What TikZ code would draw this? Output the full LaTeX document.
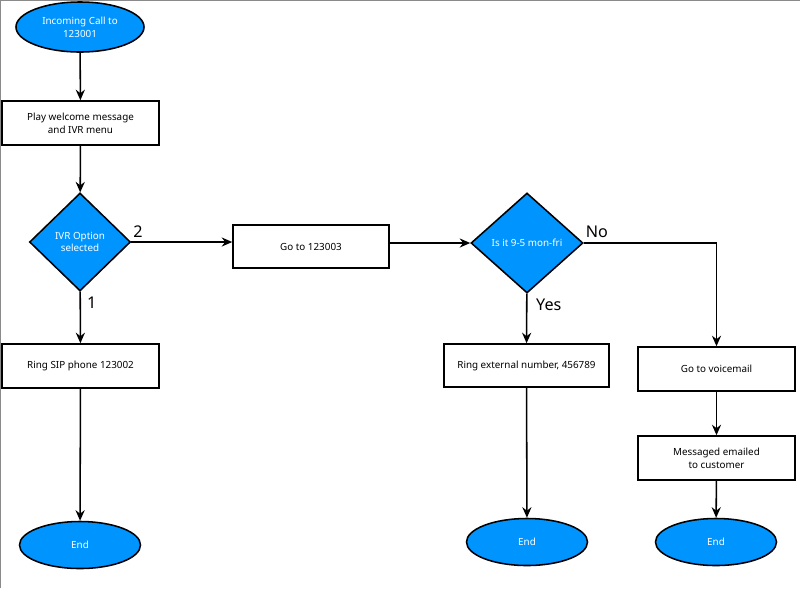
\documentclass[tikz,border=0pt]{standalone}
\usepackage{fontspec}
\setmainfont{Noto Sans}
\usepackage{tikz}
\usetikzlibrary{shapes.geometric, arrows.meta, positioning, calc}
\definecolor{callblue}{HTML}{0094FF}
\definecolor{framegray}{HTML}{8A8A8A}

\begin{document}
\begin{tikzpicture}[
    x=0.025cm, y=-0.025cm,
    every node/.style={font=\fontsize{7}{9}\selectfont},
    terminal/.style={ellipse, draw, line width=1.1pt, fill=callblue, text=white, minimum width=3.025cm, minimum height=1.175cm, inner sep=0pt},
    process/.style={rectangle, draw, line width=1.1pt, fill=white, align=center, minimum width=3.925cm, minimum height=1.1cm, inner sep=1pt},
    decision/.style={diamond, draw, line width=1.1pt, fill=callblue, text=white, align=center, inner sep=0pt},
    flow/.style={-{Stealth[length=7.5pt, width=6.5pt, inset=2.5pt]}, line width=1.1pt},
    branch/.style={font=\fontsize{11.5}{13}\selectfont},
]

% Canvas and frame
\useasboundingbox (0,0) rectangle (800,588);
\draw[framegray, line width=1.2pt] (0.5,588) -- (0.5,0.5) -- (800,0.5);

% Left column
\node[terminal, align=center, minimum width=3.2cm, minimum height=1.25cm] (start) at (80,27) {Incoming Call to\\123001};
\node[process] (welcome) at (80.5,123) {Play welcome message\\and IVR menu};
\node[decision, minimum width=2.525cm, minimum height=2.45cm] (ivr) at (80,242) {IVR Option\\selected};
\node[process] (sip) at (80.5,366) {Ring SIP phone 123002};
\node[terminal] (endsip) at (80,545) {End};

% Middle column
\node[process, minimum width=3.9cm, minimum height=1.075cm] (goto) at (311,246.5) {Go to 123003};
\node[decision, minimum width=2.8cm, minimum height=2.5cm] (hours) at (527,243) {Is it 9-5 mon-fri};
\node[process, minimum width=4.125cm, minimum height=1.075cm] (external) at (526.5,365.5) {Ring external number, 456789};
\node[terminal] (endext) at (527,542) {End};

% Right column
\node[process] (voicemail) at (716.5,369) {Go to voicemail};
\node[process] (emailed) at (716.5,458) {Messaged emailed\\to customer};
\node[terminal] (endvm) at (716,542) {End};

% Connectors
\draw[flow] (start) -- (welcome);
\draw[flow] (welcome) -- (ivr);
\draw[flow] (ivr) -- (sip);
\draw[flow] (sip) -- (endsip);
\draw[flow] (ivr.east) -- (ivr.east -| goto.west);
\draw[flow] (goto.east |- hours.west) -- (hours.west);
\draw[flow] (hours) -- (external);
\draw[flow] (external) -- (endext);
\draw[flow] (hours.east) -| (voicemail.north);
\draw[flow] (voicemail) -- (emailed);
\draw[flow] (emailed) -- (endvm);

% Branch labels
\node[branch, anchor=south west, xshift=-2pt] (two) at (ivr.east) {2};
\node[branch, anchor=north west, xshift=1.5pt] (one) at (ivr.south) {1};
\node[branch, anchor=south west, xshift=-2pt] (no) at (hours.east) {No};
\node[branch, anchor=north west, xshift=3pt] (yes) at (hours.south) {Yes};

\end{tikzpicture}
\end{document}
